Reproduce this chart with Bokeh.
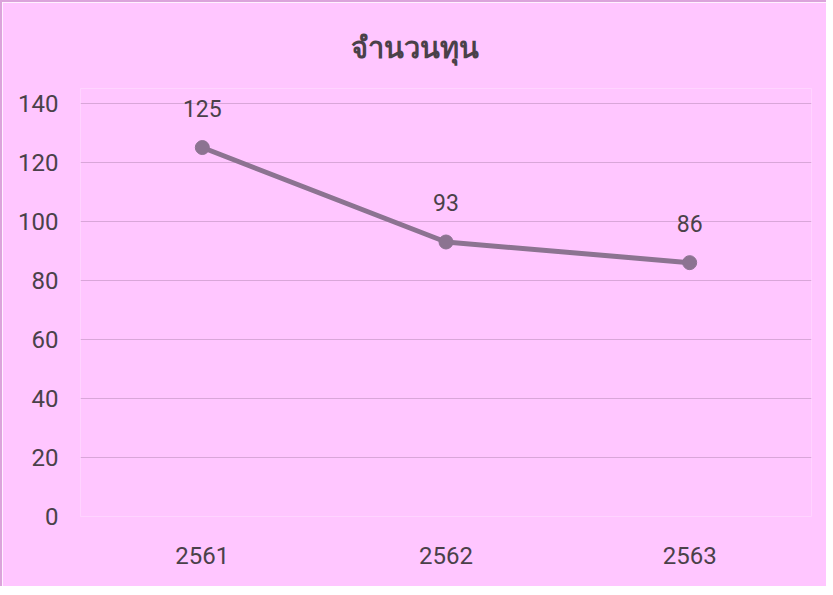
from bokeh.plotting import figure
from bokeh.models import FactorRange, Range1d, FixedTicker, ColumnDataSource, Title, LabelSet
from bokeh.core.properties import value
from bokeh.embed import file_html
from bokeh.resources import INLINE

years = ["2561", "2562", "2563"]
values = [125, 93, 86]
y_ticks = [0, 20, 40, 60, 80, 100, 120, 140]
title_text = "จำนวนทุน"

BG = "#FFC6FF"
LINE = "#8C7391"
TEXT = "#4A4149"
GRID = "#D9A6D9"

src = ColumnDataSource(dict(x=years, y=values, lab=[str(v) for v in values]))

p = figure(width=826, height=586, output_backend="svg", toolbar_location=None,
           x_range=FactorRange(*years, range_padding=0), y_range=Range1d(0, 145),
           min_border_left=78, min_border_right=17, min_border_top=86, min_border_bottom=72)
p.background_fill_color = BG
p.border_fill_color = BG
p.outline_line_color = None
p.styles = {"border-left": "2px solid #DBA3DB", "border-top": "2px solid #DBA3DB"}

p.title = Title(text=title_text, align="left", text_font="Noto Sans", text_font_size="29px",
                text_font_style="bold", text_color=TEXT, offset=270, standoff=45)

p.line("x", "y", source=src, line_color=LINE, line_width=5)
p.scatter("x", "y", source=src, size=14, fill_color=LINE, line_color=LINE)

labels = LabelSet(x="x", y="y", text="lab", source=src, text_align="center", text_baseline="bottom",
                  y_offset=31, text_font=value("Roboto"), text_font_size="23px", text_color=TEXT)
p.add_layout(labels)

p.xgrid.grid_line_color = None
p.ygrid.grid_line_color = GRID
p.ygrid.grid_line_width = 1
p.yaxis.ticker = FixedTicker(ticks=y_ticks)

for ax in (p.xaxis[0], p.yaxis[0]):
    ax.axis_line_color = None
    ax.major_tick_line_color = None
    ax.minor_tick_line_color = None
    ax.major_label_text_font = "Roboto"
    ax.major_label_text_font_size = "24px"
    ax.major_label_text_color = TEXT
p.yaxis.major_label_standoff = 16
p.xaxis.major_label_standoff = 24

open("out.html", "w").write(file_html(p, INLINE))
